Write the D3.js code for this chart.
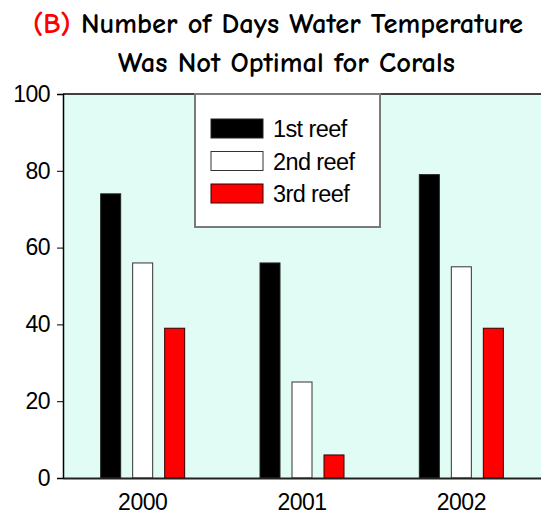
<!DOCTYPE html>
<html>
<head>
<meta charset="utf-8">
<script src="https://cdn.jsdelivr.net/npm/d3@7"></script>
<style>
  html, body { margin: 0; padding: 0; background: #ffffff; }
  svg { display: block; }
</style>
</head>
<body>
<svg id="chart" width="541" height="517"></svg>
<script>
// Days per year when water temperature was outside the corals' optimal range
const years = ["2000", "2001", "2002"];
const reefs = ["1st reef", "2nd reef", "3rd reef"];
const reef1 = [74, 56, 79];
const reef2 = [56, 25, 55];
const reef3 = [39, 6, 39];
const yTicks = [0, 20, 40, 60, 80, 100];

const series = [reef1, reef2, reef3];
const fills = ["#000000", "#ffffff", "#ff0000"];
const strokes = ["#222222", "#333333", "#330000"];

const svg = d3.select("#chart");
const plot = { left: 63, top: 94, right: 541, bottom: 478 };
const labelFont = "'Liberation Sans', Arial, sans-serif";

const x = d3.scaleBand().domain(years).range([plot.left, plot.right]).padding(0);
const y = d3.scaleLinear().domain([0, 100]).range([plot.bottom, plot.top]);

// Bars sit inside each year band: 20px wide, 32px step
const barW = 20, barStep = 32;
const groupW = barStep * (reefs.length - 1) + barW;

// Plot background
svg.append("rect")
  .attr("x", plot.left).attr("y", plot.top)
  .attr("width", plot.right - plot.left).attr("height", plot.bottom - plot.top)
  .attr("fill", "#e0fcf4");

// Top border of plot area
svg.append("line")
  .attr("x1", plot.left).attr("x2", plot.right)
  .attr("y1", plot.top).attr("y2", plot.top)
  .attr("stroke", "#404040").attr("stroke-width", 2);

// Bars
series.forEach((vals, si) => {
  svg.append("g").selectAll("rect")
    .data(vals)
    .join("rect")
    .attr("x", (d, i) => x(years[i]) + (x.bandwidth() - groupW) / 2 + si * barStep)
    .attr("y", d => y(d))
    .attr("width", barW)
    .attr("height", d => y(0) - y(d))
    .attr("fill", fills[si])
    .attr("stroke", strokes[si])
    .attr("stroke-width", 1);
});

// Y axis
const yAxis = svg.append("g")
  .attr("transform", `translate(${plot.left},0)`)
  .call(d3.axisLeft(y).tickValues(yTicks).tickSize(6).tickPadding(7).tickFormat(d3.format("d")));
yAxis.select(".domain").attr("stroke", "#000").attr("stroke-width", 1.5);
yAxis.selectAll(".tick line").attr("stroke", "#000");
yAxis.selectAll(".tick text")
  .attr("font-family", labelFont)
  .attr("font-size", 23)
  .attr("letter-spacing", -0.5)
  .attr("fill", "#000");

// X axis
const xAxis = svg.append("g")
  .attr("transform", `translate(0,${plot.bottom})`)
  .call(d3.axisBottom(x).tickSize(0).tickPadding(16));
xAxis.select(".domain").attr("stroke", "#222").attr("stroke-width", 2);
xAxis.selectAll(".tick text")
  .attr("font-family", labelFont)
  .attr("font-size", 23)
  .attr("letter-spacing", -0.5)
  .attr("fill", "#000");

// Legend
const legend = svg.append("g");
legend.append("rect")
  .attr("x", 195).attr("y", 94).attr("width", 185).attr("height", 133)
  .attr("fill", "#ffffff").attr("stroke", "#7a7a7a").attr("stroke-width", 2);
reefs.forEach((name, i) => {
  const ly = 119 + i * 32.5;
  legend.append("rect")
    .attr("x", 211).attr("y", ly).attr("width", 52).attr("height", 19)
    .attr("fill", fills[i]).attr("stroke", strokes[i]).attr("stroke-width", 1);
  legend.append("text")
    .attr("x", 273).attr("y", ly + 18)
    .attr("font-family", labelFont)
    .attr("font-size", 23.5)
    .attr("letter-spacing", -0.6)
    .attr("fill", "#000")
    .text(name);
});

// Title
const titleFont = "'Comic Sans MS', 'Comic Neue', 'DejaVu Sans Condensed', 'DejaVu Sans', sans-serif";
const t1 = svg.append("text")
  .attr("x", 33).attr("y", 33)
  .attr("font-family", titleFont).attr("font-weight", "bold").attr("font-size", 28)
  .attr("textLength", 490).attr("lengthAdjust", "spacingAndGlyphs");
t1.append("tspan").attr("fill", "#ff0000").text("(B)");
t1.append("tspan").attr("fill", "#000").text(" Number of Days Water Temperature");

svg.append("text")
  .attr("x", 118).attr("y", 72)
  .attr("font-family", titleFont).attr("font-weight", "bold").attr("font-size", 28)
  .attr("textLength", 337).attr("lengthAdjust", "spacingAndGlyphs")
  .attr("fill", "#000")
  .text("Was Not Optimal for Corals");
</script>
</body>
</html>
